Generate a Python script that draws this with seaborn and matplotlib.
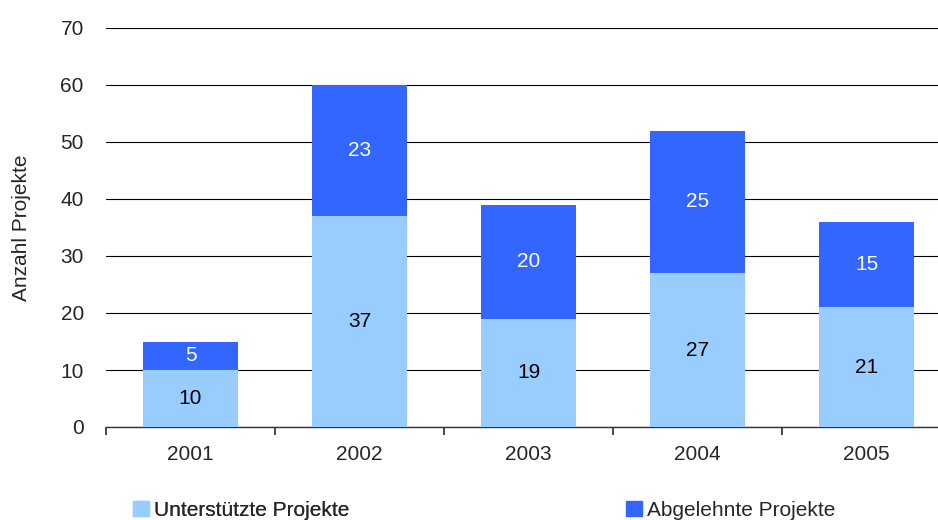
import matplotlib
matplotlib.use("Agg")
import matplotlib.pyplot as plt
import seaborn as sns
import pandas as pd
from matplotlib.patches import Patch

# ================= DATA =================
years = ["2001", "2002", "2003", "2004", "2005"]
supported = [10, 37, 19, 27, 21]
rejected = [5, 23, 20, 25, 15]
y_ticks = [0, 10, 20, 30, 40, 50, 60, 70]

LIGHT = "#99CCFF"
DARK = "#3366FF"
FS = 15

df = pd.DataFrame({"year": years, "supported": supported, "rejected": rejected})

sns.set_theme(style="white")
plt.rcParams["font.family"] = ["Liberation Sans", "DejaVu Sans"]

fig = plt.figure(figsize=(9.38, 5.2), dpi=100)
# axes: left 106px, right ~951px (cut off), top 28px, bottom 427px
ax = fig.add_axes([106 / 938, 1 - 427 / 520, (951 - 106) / 938, (427 - 28) / 520])

sns.barplot(data=df, x="year", y="supported", color=LIGHT, width=0.56,
            saturation=1, linewidth=0, ax=ax, zorder=3)
sns.barplot(data=df, x="year", y="rejected", color=DARK, width=0.56,
            saturation=1, linewidth=0, bottom=df["supported"], ax=ax, zorder=3)

# value labels
for i, (s, r) in enumerate(zip(supported, rejected)):
    ax.text(i, s / 2, str(s), ha="center", va="center", fontsize=FS, color="black", zorder=4)
    ax.text(i, s + r / 2, str(r), ha="center", va="center", fontsize=FS, color="white", zorder=4)

ax.set_xlim(-0.5, len(years) - 0.5)
ax.set_ylim(0, 70)
ax.set_yticks(y_ticks)
ax.yaxis.grid(True, color="#000000", linewidth=0.8)
ax.set_axisbelow(True)

for side in ["left", "right", "top"]:
    ax.spines[side].set_visible(False)
ax.spines["bottom"].set_color("#333333")
ax.spines["bottom"].set_linewidth(1.0)

# x ticks sit between categories
ax.set_xticks([i - 0.5 for i in range(len(years) + 1)], minor=False)
ax.set_xticklabels([])
ax.set_xticks(range(len(years)), minor=True)
ax.set_xticklabels(years, minor=True)
ax.tick_params(axis="x", which="major", direction="out", length=6, color="#333333", bottom=True)
ax.tick_params(axis="x", which="minor", length=0, pad=13, labelsize=FS)
ax.tick_params(axis="y", length=0, pad=16, labelsize=FS)

ax.set_xlabel("")
ax.set_ylabel("Anzahl Projekte", fontsize=FS, labelpad=21)

# legend entries, placed separately like the original
leg1 = fig.legend(handles=[Patch(color=LIGHT, label="Unterstützte Projekte")],
                  loc="lower left", bbox_to_anchor=(133 / 938, 0.0),
                  frameon=False, fontsize=FS, handlelength=0.75, handleheight=0.75,
                  handletextpad=0.25, borderpad=0, borderaxespad=0)
leg2 = fig.legend(handles=[Patch(color=DARK, label="Abgelehnte Projekte")],
                  loc="lower left", bbox_to_anchor=(626 / 938, 0.0),
                  frameon=False, fontsize=FS, handlelength=0.75, handleheight=0.75,
                  handletextpad=0.25, borderpad=0, borderaxespad=0)
fig.add_artist(leg1)

fig.savefig("out.png", dpi=100)
